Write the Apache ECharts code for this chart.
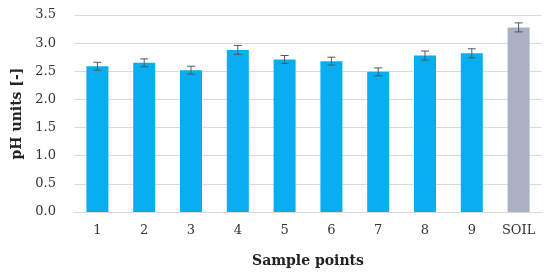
<!DOCTYPE html>
<html>
<head>
<meta charset="utf-8">
<script src="https://cdn.jsdelivr.net/npm/echarts@6/dist/echarts.min.js"></script>
<style>
  html, body { margin: 0; padding: 0; background: #fff; }
  #chart { width: 550px; height: 280px; }
</style>
</head>
<body>
<div id="chart"></div>
<script>
// 数据
var categories = ['1', '2', '3', '4', '5', '6', '7', '8', '9', 'SOIL'];
var phValues = [2.59, 2.65, 2.52, 2.88, 2.71, 2.68, 2.49, 2.78, 2.82, 3.28];
var phErrors = [0.07, 0.07, 0.07, 0.08, 0.07, 0.07, 0.07, 0.08, 0.08, 0.08];
var yTicks = [0, 0.5, 1, 1.5, 2, 2.5, 3, 3.5];

var chart = echarts.init(document.getElementById('chart'));

var barData = phValues.map(function (v, i) {
    return {
        value: v,
        itemStyle: { color: categories[i] === 'SOIL' ? '#aab1c4' : '#08aeef' }
    };
});

var errData = phValues.map(function (v, i) {
    return [i, v - phErrors[i], v + phErrors[i]];
});

var option = {
    animation: false,
    textStyle: { fontFamily: 'DejaVu Serif' },
    grid: { left: 74, right: 8, top: 15, bottom: 68 },
    xAxis: {
        type: 'category',
        data: categories,
        axisLine: { lineStyle: { color: '#d9d9d9' } },
        axisTick: { show: false },
        axisLabel: { color: '#333', fontSize: 13, margin: 12, fontFamily: 'DejaVu Serif' },
        name: 'Sample points',
        nameLocation: 'middle',
        nameGap: 42,
        nameTextStyle: { fontWeight: 'bold', fontSize: 14, color: '#222', fontFamily: 'DejaVu Serif' }
    },
    yAxis: {
        type: 'value',
        min: yTicks[0],
        max: yTicks[yTicks.length - 1],
        interval: 0.5,
        axisLine: { show: false },
        axisTick: { show: false },
        splitLine: { lineStyle: { color: '#d9d9d9' } },
        axisLabel: {
            color: '#333', fontSize: 13, margin: 18, fontFamily: 'DejaVu Serif',
            formatter: function (v) { return v.toFixed(1); }
        },
        name: 'pH units [-]',
        nameLocation: 'middle',
        nameGap: 48,
        nameTextStyle: { fontWeight: 'bold', fontSize: 14, color: '#222', fontFamily: 'DejaVu Serif' }
    },
    series: [
        {
            type: 'bar',
            data: barData,
            barWidth: 22
        },
        {
            type: 'custom',
            data: errData,
            z: 10,
            renderItem: function (params, api) {
                var x = api.value(0);
                var lo = api.coord([x, api.value(1)]);
                var hi = api.coord([x, api.value(2)]);
                var w = 4;
                var st = { stroke: '#4a5c60', lineWidth: 1 };
                return {
                    type: 'group',
                    children: [
                        { type: 'line', shape: { x1: hi[0], y1: hi[1], x2: lo[0], y2: lo[1] }, style: st },
                        { type: 'line', shape: { x1: hi[0] - w, y1: hi[1], x2: hi[0] + w, y2: hi[1] }, style: st },
                        { type: 'line', shape: { x1: lo[0] - w, y1: lo[1], x2: lo[0] + w, y2: lo[1] }, style: st }
                    ]
                };
            }
        }
    ]
};

chart.setOption(option);
</script>
</body>
</html>
